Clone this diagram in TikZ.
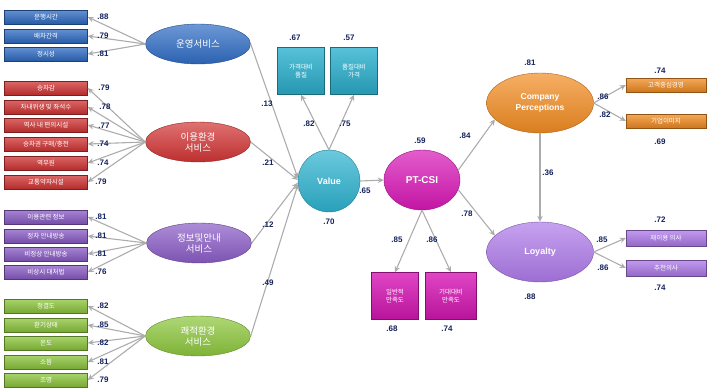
\documentclass[tikz,border=0pt]{standalone}
\usepackage{fontspec}
\newfontfamily\kr{Noto Sans CJK KR}
\setmainfont{Liberation Sans}
\usetikzlibrary{shapes.geometric,arrows.meta}
\definecolor{navy}{HTML}{14225E}
\definecolor{cblue}{HTML}{2F6CC4}
\definecolor{cred}{HTML}{D23434}
\definecolor{cpurp}{HTML}{8A5CC6}
\definecolor{cgreen}{HTML}{8CC63C}
\definecolor{ccyan}{HTML}{2CB2CF}
\definecolor{cmag}{HTML}{D817B6}
\definecolor{corange}{HTML}{F28C22}
\definecolor{clav}{HTML}{AE7AEA}
\tikzset{
  cbox/.style={rectangle, minimum width=83pt, minimum height=14pt, inner sep=0pt,
    top color=#1!75!white, bottom color=#1!85!black, draw=#1!60!black, line width=0.4pt,
    text=white, font=\kr\fontsize{6.5}{7}\selectfont},
  sqbox/.style={rectangle, minimum width=47pt, minimum height=47pt, inner sep=1pt,
    top color=#1!80!white, bottom color=#1!85!black, draw=#1!60!black, line width=0.4pt,
    text=white, align=center, font=\kr\fontsize{6.5}{8}\selectfont},
  cell/.style={ellipse, inner sep=0pt, minimum width=105pt, minimum height=40pt,
    top color=#1!70!white, bottom color=#1!90!black, draw=#1!70!black, line width=0.4pt,
    text=white, align=center, font=\kr\fontsize{9.5}{11}\selectfont},
  num/.style={text=navy, font=\bfseries\fontsize{8}{9}\selectfont, inner sep=0pt},
  arr/.style={draw=gray!65, line width=1.1pt, -{Stealth[length=6pt,width=5.5pt]}},
}
\begin{document}
\begin{tikzpicture}[x=1pt,y=-1pt]
\useasboundingbox (0,0) rectangle (707,391);
% ---- left latent variables
\node[cell=cblue] (ops) at (198,44) {운영서비스};
\node[cell=cred] (env) at (198,142) {이용환경\\서비스};
\node[cell=cpurp] (inf) at (199,243) {정보및안내\\서비스};
\node[cell=cgreen] (cmf) at (198,336) {쾌적환경\\서비스};
% blue boxes
\node[cbox=cblue] (b1) at (46,17) {운행시간};
\node[cbox=cblue] (b2) at (46,36) {배차간격};
\node[cbox=cblue] (b3) at (46,54) {정시성};
% red boxes
\node[cbox=cred] (r1) at (46,88) {승차감};
\node[cbox=cred] (r2) at (46,107) {차내위생 및 좌석수};
\node[cbox=cred] (r3) at (46,125) {역사 내 편의시설};
\node[cbox=cred] (r4) at (46,144) {승차권 구매/충전};
\node[cbox=cred] (r5) at (46,163) {역무원};
\node[cbox=cred] (r6) at (46,182) {교통약자시설};
% purple boxes
\node[cbox=cpurp] (p1) at (46,217) {이용관련 정보};
\node[cbox=cpurp] (p2) at (46,236) {정차 안내방송};
\node[cbox=cpurp] (p3) at (46,254) {비정상 안내방송};
\node[cbox=cpurp] (p4) at (46,272) {비상시 대처법};
% green boxes
\node[cbox=cgreen] (g1) at (46,306) {청결도};
\node[cbox=cgreen] (g2) at (46,325) {환기상태};
\node[cbox=cgreen] (g3) at (46,343) {온도};
\node[cbox=cgreen] (g4) at (46,362) {소음};
\node[cbox=cgreen] (g5) at (46,380) {조명};
% ---- central
\node[circle, minimum size=62pt, inner sep=0pt, top color=ccyan!70!white, bottom color=ccyan!90!black,
  draw=ccyan!70!black, line width=0.4pt, text=white, font=\bfseries\fontsize{9}{10}\selectfont] (val) at (329,181) {Value};
\node[sqbox=ccyan] (c1) at (301,71) {가격대비\\품질};
\node[sqbox=ccyan] (c2) at (354,71) {품질대비\\가격};
\node[cell=cmag, minimum width=76pt, minimum height=60pt, font=\bfseries\fontsize{10}{11}\selectfont] (csi) at (422,180) {PT-CSI};
\node[sqbox=cmag] (m1) at (395,296) {일반적\\만족도};
\node[sqbox=cmag, minimum width=51pt] (m2) at (451,296) {기대대비\\만족도};
\node[cell=corange, minimum width=107pt, minimum height=60pt, font=\bfseries\fontsize{8.5}{11}\selectfont] (cmp) at (540,103) {Company\\Perceptions};
\node[cell=clav, minimum width=107pt, minimum height=60pt, font=\bfseries\fontsize{9}{11}\selectfont] (loy) at (540,252) {Loyalty};
\node[cbox=corange, minimum width=80pt] (o1) at (666,85) {고객중심경영};
\node[cbox=corange, minimum width=80pt] (o2) at (666,121) {기업이미지};
\node[cbox=clav, minimum width=80pt, minimum height=16pt] (l1) at (666,238) {재이용 의사};
\node[cbox=clav, minimum width=80pt, minimum height=16pt] (l2) at (666,268) {추천의사};
% ---- connectors: measurement
\foreach \b in {b1,b2,b3} \draw[arr] (ops.west) -- (\b.east);
\foreach \b in {r1,r2,r3,r4,r5,r6} \draw[arr] (env.west) -- (\b.east);
\foreach \b in {p1,p2,p3,p4} \draw[arr] (inf.west) -- (\b.east);
\foreach \b in {g1,g2,g3,g4,g5} \draw[arr] (cmf.west) -- (\b.east);
% structural
\draw[arr] (ops.east) -- (val.175);
\draw[arr] (env.east) -- (val.178);
\draw[arr] (inf.east) -- (val.183);
\draw[arr] (cmf.east) -- (val.186);
\draw[arr] (val.north) -- (c1.south);
\draw[arr] (val.north) -- (c2.south);
\draw[arr] (val.east) -- (csi.west);
\draw[arr] (csi.270) -- (m1.north);
\draw[arr] (csi.270) -- (m2.north);
\draw[arr] (csi.15) -- (cmp.200);
\draw[arr] (csi.-15) -- (loy.160);
\draw[arr] (cmp.south) -- (loy.north);
\draw[arr] (cmp.east) -- (o1.west);
\draw[arr] (cmp.east) -- (o2.west);
\draw[arr] (loy.east) -- (l1.west);
\draw[arr] (loy.east) -- (l2.west);
% ---- numbers
\node[num] (n1) at (103,17) {.88};
\node[num] (n2) at (103,36) {.79};
\node[num] (n3) at (103,54) {.81};
\node[num] (n4) at (104,88) {.79};
\node[num] (n5) at (105,107) {.78};
\node[num] (n6) at (104,126) {.77};
\node[num] (n7) at (103,144) {.74};
\node[num] (n8) at (103,163) {.74};
\node[num] (n9) at (101,182) {.79};
\node[num] (n10) at (101,217) {.81};
\node[num] (n11) at (101,236) {.81};
\node[num] (n12) at (101,254) {.81};
\node[num] (n13) at (101,272) {.76};
\node[num] (n14) at (103,306) {.82};
\node[num] (n15) at (103,325) {.85};
\node[num] (n16) at (103,343) {.82};
\node[num] (n17) at (103,362) {.81};
\node[num] (n18) at (103,380) {.79};
\node[num] (n19) at (267,104) {.13};
\node[num] (n20) at (268,163) {.21};
\node[num] (n21) at (268,225) {.12};
\node[num] (n22) at (268,283) {.49};
\node[num] (n23) at (295,38) {.67};
\node[num] (n24) at (349,38) {.57};
\node[num] (n25) at (309,124) {.82};
\node[num] (n26) at (345,124) {.75};
\node[num] (n27) at (329,222) {.70};
\node[num] (n28) at (365,191) {.65};
\node[num] (n29) at (420,141) {.59};
\node[num] (n30) at (465,136) {.84};
\node[num] (n31) at (467,214) {.78};
\node[num] (n32) at (397,240) {.85};
\node[num] (n33) at (432,240) {.86};
\node[num] (n34) at (392,329) {.68};
\node[num] (n35) at (447,329) {.74};
\node[num] (n36) at (530,63) {.81};
\node[num] (n37) at (548,173) {.36};
\node[num] (n38) at (530,297) {.88};
\node[num] (n39) at (603,97) {.86};
\node[num] (n40) at (605,115) {.82};
\node[num] (n41) at (660,71) {.74};
\node[num] (n42) at (660,142) {.69};
\node[num] (n43) at (602,240) {.85};
\node[num] (n44) at (603,268) {.86};
\node[num] (n45) at (660,220) {.72};
\node[num] (n46) at (660,288) {.74};
\end{tikzpicture}
\end{document}
